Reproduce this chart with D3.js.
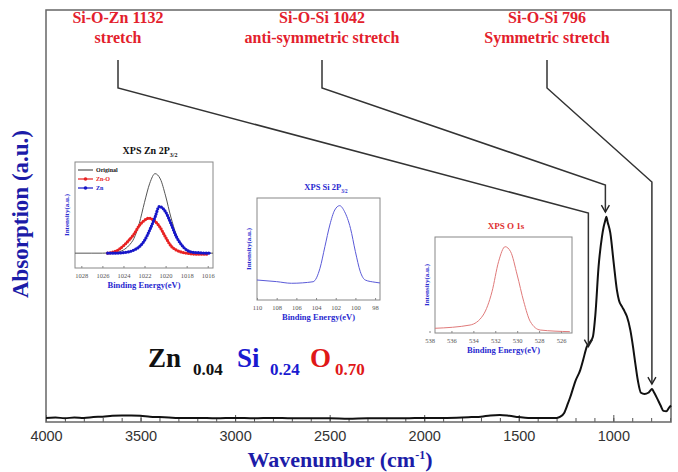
<!DOCTYPE html>
<html>
<head>
<meta charset="utf-8">
<script src="https://cdn.jsdelivr.net/npm/d3@7/dist/d3.min.js"></script>
<style>
  body { margin: 0; background: #fff; }
  svg { display: block; }
</style>
</head>
<body>
<div id="chart"></div>
<script>
// FTIR spectrum (main plot)
const wavenumbers = [4000, 3950, 3900, 3850, 3800, 3750, 3700, 3650, 3600, 3550, 3500, 3450, 3400, 3350, 3300,
  3200, 3100, 3000, 2900, 2800, 2700, 2600, 2500, 2400, 2300, 2200, 2100, 2000, 1900, 1800, 1750, 1700, 1650,
  1600, 1550, 1500, 1450, 1400, 1350, 1300, 1280, 1260, 1240, 1228, 1200, 1175, 1160, 1140, 1122, 1108, 1095,
  1078, 1060, 1051, 1042, 1037, 1030, 1016, 998, 981, 970, 954, 940, 928, 910, 895, 884, 870, 854, 835, 815,
  805, 795, 785, 769, 750, 735, 720, 705, 695];
const absorbance = [0.010, 0.011, 0.009, 0.011, 0.010, 0.012, 0.013, 0.015, 0.016, 0.016, 0.015, 0.013, 0.012, 0.011, 0.010,
  0.010, 0.009, 0.010, 0.009, 0.010, 0.009, 0.009, 0.009, 0.008, 0.009, 0.009, 0.009, 0.010, 0.010, 0.011, 0.012, 0.013, 0.016,
  0.017, 0.015, 0.012, 0.010, 0.010, 0.010, 0.010, 0.013, 0.022, 0.045, 0.060, 0.100, 0.126, 0.150, 0.183, 0.195, 0.207, 0.260,
  0.377, 0.450, 0.474, 0.490, 0.498, 0.485, 0.459, 0.386, 0.320, 0.295, 0.280, 0.268, 0.256, 0.223, 0.180, 0.143, 0.100, 0.071, 0.068, 0.071,
  0.076, 0.080, 0.072, 0.058, 0.040, 0.027, 0.026, 0.035, 0.040];
const xTicksMajor = [4000, 3500, 3000, 2500, 2000, 1500, 1000];

// peak annotations
const peakWn = [1132, 1042, 796];
const peakLine1 = ["Si-O-Zn 1132", "Si-O-Si 1042", "Si-O-Si 796"];
const peakLine2 = ["stretch", "anti-symmetric stretch", "Symmetric stretch"];

// XPS Zn 2p3/2 inset
const znEnergy = [1028.6, 1027, 1026, 1025, 1024.5, 1024, 1023.5, 1023, 1022.5, 1022, 1021.5, 1021, 1020.5, 1020, 1019.5, 1019, 1018.5, 1018, 1017, 1016, 1015.5];
const znOriginal = [0.14, 0.14, 0.14, 0.145, 0.15, 0.17, 0.21, 0.28, 0.42, 0.62, 0.80, 0.89, 0.84, 0.68, 0.48, 0.32, 0.22, 0.17, 0.145, 0.14, 0.14];
const znOEnergy = [1025.5, 1025, 1024.5, 1024, 1023.5, 1023, 1022.5, 1022, 1021.6, 1021, 1020.5, 1020, 1019.5, 1019, 1018.5, 1018, 1017, 1016];
const znOValues = [0.14, 0.15, 0.17, 0.21, 0.26, 0.32, 0.40, 0.45, 0.47, 0.44, 0.38, 0.29, 0.21, 0.17, 0.15, 0.14, 0.13, 0.13];
const znMetalEnergy = [1025.5, 1025, 1024, 1023, 1022.5, 1022, 1021.5, 1021, 1020.6, 1020, 1019.5, 1019, 1018.5, 1018, 1017.5, 1017, 1016, 1015.7];
const znMetalValues = [0.14, 0.14, 0.145, 0.17, 0.20, 0.26, 0.36, 0.48, 0.58, 0.53, 0.42, 0.30, 0.22, 0.17, 0.15, 0.145, 0.14, 0.14];
const znTicks = [1028, 1026, 1024, 1022, 1020, 1018, 1016];
const znLegend = ["Original", "Zn-O", "Zn"];

// XPS Si 2p3/2 inset
const siEnergy = [110.0, 108.0, 106.5, 104.3, 103.6, 103.1, 102.6, 102.1, 101.6, 101.1, 100.5, 100.0, 99.5, 99.0, 98.0, 97.5];
const siValues = [0.196, 0.18, 0.164, 0.179, 0.311, 0.523, 0.735, 0.882, 0.925, 0.866, 0.703, 0.474, 0.277, 0.196, 0.174, 0.167];
const siTicks = [110, 108, 106, 104, 102, 100, 98];

// XPS O 1s inset
const oEnergy = [537.5, 534.3, 533.1, 532.3, 531.7, 531.1, 530.6, 530.0, 529.4, 528.8, 527.9, 525.2];
const oValues = [0.049, 0.083, 0.1875, 0.43, 0.743, 0.899, 0.847, 0.604, 0.326, 0.118, 0.031, 0.014];
const oTicks = [538, 536, 534, 532, 530, 528, 526];

// composition
const elements = ["Zn", "Si", "O"];
const fractions = ["0.04", "0.24", "0.70"];

const W = 678, H = 472;
const serif = "'Times New Roman', 'Liberation Serif', serif";
const sans = "Arial, 'Liberation Sans', sans-serif";
const labelRed = "#e3202c";
const titleBlue = "#1c1ca8";

const svg = d3.select("#chart").append("svg")
  .attr("width", W).attr("height", H);

// arrowhead
svg.append("defs").append("marker")
  .attr("id", "arrow")
  .attr("viewBox", "0 -5 10 10")
  .attr("refX", 8).attr("refY", 0)
  .attr("markerUnits", "userSpaceOnUse")
  .attr("markerWidth", 10).attr("markerHeight", 10)
  .attr("orient", "auto")
  .append("path")
  .attr("d", "M1,-4 L8,0 L1,4")
  .attr("fill", "none")
  .attr("stroke", "#222")
  .attr("stroke-width", 1.4);

// ---- main plot ----
const plot = { left: 46, right: 671, top: 10, bottom: 422 };
const x = d3.scaleLinear().domain([4000, 695]).range([plot.left, plot.right]);
const y = d3.scaleLinear().domain([0, 1]).range([plot.bottom, plot.top]);

// minor + major ticks (inside)
const minorTicks = d3.range(4000, 699, -100);
svg.append("g")
  .attr("transform", `translate(0,${plot.bottom})`)
  .call(d3.axisBottom(x).tickValues(minorTicks).tickSize(-4).tickFormat(""))
  .call(g => g.select(".domain").remove())
  .call(g => g.selectAll("line").attr("stroke", "#555"));

svg.append("g")
  .attr("transform", `translate(0,${plot.bottom})`)
  .call(d3.axisBottom(x).tickValues(xTicksMajor).tickSize(-7).tickPadding(9).tickFormat(d3.format("d")))
  .call(g => g.select(".domain").remove())
  .call(g => g.selectAll("line").attr("stroke", "#555"))
  .call(g => g.selectAll("text")
    .attr("font-family", sans)
    .attr("font-size", 14.5)
    .attr("fill", "#333"));

// frame
svg.append("rect")
  .attr("x", plot.left).attr("y", plot.top)
  .attr("width", plot.right - plot.left).attr("height", plot.bottom - plot.top)
  .attr("fill", "none").attr("stroke", "#666").attr("stroke-width", 1.5);

// spectrum
const spectrum = wavenumbers.map((w, i) => ({ w, a: absorbance[i] }));
svg.append("path")
  .datum(spectrum)
  .attr("fill", "none")
  .attr("stroke", "#111")
  .attr("stroke-width", 2)
  .attr("stroke-linejoin", "round")
  .attr("d", d3.line().x(d => x(d.w)).y(d => y(d.a)).curve(d3.curveMonotoneX));

// axis titles
svg.append("text")
  .attr("transform", "translate(28,214) rotate(-90)")
  .attr("text-anchor", "middle")
  .attr("font-family", serif).attr("font-weight", "bold").attr("font-size", 23)
  .attr("fill", titleBlue)
  .text("Absorption (a.u.)");

const xTitle = svg.append("text")
  .attr("x", 340).attr("y", 467)
  .attr("text-anchor", "middle")
  .attr("font-family", serif).attr("font-weight", "bold").attr("font-size", 22)
  .attr("fill", titleBlue);
xTitle.append("tspan").text("Wavenumber (cm");
xTitle.append("tspan").attr("font-size", 12).attr("dy", -8).text("-1");
xTitle.append("tspan").attr("dy", 8).text(")");

// ---- peak annotations ----
const labelX = [118, 322, 547];
const bendY = [213, 185, 182];
const tipGap = [0, 8, 5];

function curveAt(w) {
  // value of the nearest listed point
  let best = spectrum[0];
  spectrum.forEach(d => { if (Math.abs(d.w - w) < Math.abs(best.w - w)) best = d; });
  return best.a;
}

peakWn.forEach((w, i) => {
  const g = svg.append("g");
  g.append("text")
    .attr("x", labelX[i]).attr("y", 23)
    .attr("text-anchor", "middle")
    .attr("font-family", serif).attr("font-weight", "bold").attr("font-size", 16)
    .attr("fill", labelRed)
    .text(peakLine1[i]);
  g.append("text")
    .attr("x", labelX[i]).attr("y", 43)
    .attr("text-anchor", "middle")
    .attr("font-family", serif).attr("font-weight", "bold").attr("font-size", 16)
    .attr("fill", labelRed)
    .text(peakLine2[i]);

  const px = x(w);
  const tipY = y(curveAt(w)) - tipGap[i];
  g.append("path")
    .attr("d", `M${labelX[i]},60 L${labelX[i]},88 L${px},${bendY[i]} L${px},${tipY}`)
    .attr("fill", "none")
    .attr("stroke", "#333")
    .attr("stroke-width", 1.5)
    .attr("marker-end", "url(#arrow)");
});

// ---- insets ----
function drawInset(cfg) {
  const g = svg.append("g");
  const ix = d3.scaleLinear().domain(cfg.xDomain).range([cfg.left, cfg.right]);
  const iy = d3.scaleLinear().domain([0, 1]).range([cfg.bottom, cfg.top]);

  g.append("rect")
    .attr("x", cfg.left).attr("y", cfg.top)
    .attr("width", cfg.right - cfg.left).attr("height", cfg.bottom - cfg.top)
    .attr("fill", "#fff").attr("stroke", "#888").attr("stroke-width", 1);

  g.append("g")
    .attr("transform", `translate(0,${cfg.bottom})`)
    .call(d3.axisBottom(ix).tickValues(cfg.ticks).tickSize(-2).tickPadding(5).tickFormat(d3.format("d")))
    .call(s => s.select(".domain").remove())
    .call(s => s.selectAll("line").attr("stroke", "#888"))
    .call(s => s.selectAll("text")
      .attr("font-family", serif).attr("font-size", 6.5).attr("fill", "#555"));

  cfg.series.forEach(s => {
    const pts = s.xs.map((e, i) => ({ e, v: s.ys[i] }));
    const line = d3.line().x(d => ix(d.e)).y(d => iy(d.v)).curve(d3.curveMonotoneX);
    g.append("path")
      .datum(pts)
      .attr("fill", "none")
      .attr("stroke", s.color)
      .attr("stroke-width", s.width)
      .attr("d", line);
    if (s.dotted) {
      g.append("path")
        .datum(pts)
        .attr("fill", "none")
        .attr("stroke", s.color)
        .attr("stroke-width", 3.2)
        .attr("stroke-linecap", "round")
        .attr("stroke-dasharray", "0 2.6")
        .attr("d", line);
    }
  });

  g.append("text")
    .attr("x", cfg.titleX).attr("y", cfg.titleY)
    .attr("text-anchor", "middle")
    .attr("font-family", serif).attr("font-weight", "bold").attr("font-size", cfg.titleSize)
    .attr("fill", cfg.titleColor)
    .call(t => {
      t.append("tspan").text(cfg.title);
      if (cfg.titleSub) {
        t.append("tspan").attr("font-size", cfg.titleSize * 0.6).attr("dy", 3).text(cfg.titleSub);
      }
    });

  g.append("text")
    .attr("x", (cfg.left + cfg.right) / 2).attr("y", cfg.bottom + 20)
    .attr("text-anchor", "middle")
    .attr("font-family", serif).attr("font-weight", "bold").attr("font-size", 8.5)
    .attr("fill", "#2a2ad0")
    .text("Binding Energy(eV)");

  g.append("text")
    .attr("transform", `translate(${cfg.left - 6},${(cfg.top + cfg.bottom) / 2}) rotate(-90)`)
    .attr("text-anchor", "middle")
    .attr("font-family", serif).attr("font-weight", "bold").attr("font-size", 7)
    .attr("fill", "#2a2ad0")
    .text("Intensity(a.u.)");
  return g;
}

const znInset = drawInset({
  left: 75, right: 213, top: 162, bottom: 268,
  xDomain: [1028.6, 1015.5], ticks: znTicks,
  title: "XPS Zn 2P", titleSub: "3/2", titleX: 150, titleY: 154, titleSize: 10, titleColor: "#111",
  series: [
    { xs: znEnergy, ys: znOriginal, color: "#555", width: 1 },
    { xs: znOEnergy, ys: znOValues, color: "#e82222", width: 1.2, dotted: true },
    { xs: znMetalEnergy, ys: znMetalValues, color: "#1616c8", width: 1.2, dotted: true }
  ]
});

// Zn inset legend
const legendColors = ["#555", "#e82222", "#1616c8"];
znLegend.forEach((name, i) => {
  const ly = 170 + i * 9;
  znInset.append("line")
    .attr("x1", 78).attr("x2", 93).attr("y1", ly).attr("y2", ly)
    .attr("stroke", legendColors[i]).attr("stroke-width", 1.2);
  if (i > 0) {
    znInset.append("circle")
      .attr("cx", 85.5).attr("cy", ly).attr("r", 1.8)
      .attr("fill", legendColors[i]);
  }
  znInset.append("text")
    .attr("x", 96).attr("y", ly + 2)
    .attr("font-family", serif).attr("font-weight", "bold").attr("font-size", 6)
    .attr("fill", i === 0 ? "#111" : legendColors[i])
    .text(name);
});

drawInset({
  left: 257, right: 380, top: 198, bottom: 300,
  xDomain: [110, 97.5], ticks: siTicks,
  title: "XPS Si 2P", titleSub: "3/2", titleX: 326, titleY: 190, titleSize: 8.5, titleColor: "#2a2ad0",
  series: [
    { xs: siEnergy, ys: siValues, color: "#5a5ad8", width: 1 }
  ]
});

drawInset({
  left: 435, right: 572, top: 237, bottom: 333,
  xDomain: [537.5, 525], ticks: oTicks,
  title: "XPS O 1s", titleX: 506, titleY: 229, titleSize: 9, titleColor: "#e03030",
  series: [
    { xs: oEnergy, ys: oValues, color: "#e07a7a", width: 1 }
  ]
});

// ---- composition formula ----
const elemColors = ["#111", "#1a1ad0", "#e01818"];
const elemX = [148, 237, 310];
const fracX = [193, 270, 335];
elements.forEach((el, i) => {
  svg.append("text")
    .attr("x", elemX[i]).attr("y", 367)
    .attr("font-family", serif).attr("font-weight", "bold").attr("font-size", 27)
    .attr("fill", elemColors[i])
    .text(el);
  svg.append("text")
    .attr("x", fracX[i]).attr("y", 375)
    .attr("font-family", serif).attr("font-weight", "bold").attr("font-size", 17)
    .attr("fill", elemColors[i])
    .text(fractions[i]);
});
</script>
</body>
</html>
